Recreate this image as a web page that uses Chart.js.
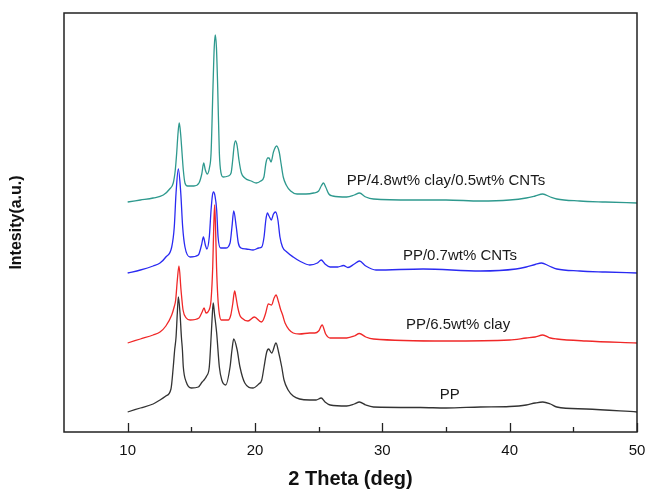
<!DOCTYPE html>
<html>
<head>
<meta charset="utf-8">
<title>XRD patterns</title>
<script src="https://cdn.jsdelivr.net/npm/chart.js@4.4.1/dist/chart.umd.min.js"></script>
<style>
  html, body { margin: 0; padding: 0; background: #fff; }
  #wrap { width: 648px; height: 492px; }
</style>
</head>
<body>
<div id="wrap"><canvas id="xrd" width="648" height="492"></canvas></div>
<script>
// 2-theta positions (deg) and intensities (a.u., curves already offset)
const thetaPP = [10, 11, 12, 12.54, 13.0, 13.4, 13.58, 13.69, 13.8, 13.9, 13.98, 14.11, 14.22, 14.3, 14.37, 14.6, 15.0, 15.55, 15.85, 16.0, 16.2, 16.41, 16.57, 16.65, 16.72, 16.82, 16.99, 17.2, 17.39, 17.7, 18.04, 18.19, 18.33, 18.6, 18.82, 19.2, 19.85, 20.3, 20.53, 20.71, 20.92, 21.07, 21.31, 21.65, 21.85, 22.1, 22.28, 22.6, 23.0, 23.5, 24.3, 24.8, 25.2, 25.5, 25.9, 27.2, 27.8, 28.2, 28.7, 29.3, 33.0, 35.0, 37.7, 40.0, 41.3, 42.0, 42.6, 43.2, 43.7, 46.0, 50];
const intensityPP = [20, 24, 28, 32, 36, 43, 65, 82, 95, 119, 135, 119, 95, 82, 65, 50, 44, 45, 50, 52, 56, 65, 99, 118, 129, 118, 99, 65, 52, 47, 65, 82, 93, 82, 65, 49, 44, 48, 52, 65, 80, 83, 79, 89, 80, 65, 52, 42, 36, 33, 32, 32, 34, 30, 27, 26, 28, 30, 27, 25, 24.5, 24, 25, 25.5, 27, 29, 30, 28, 25, 23, 20];

const thetaClay = [10, 11, 12, 12.54, 13.0, 13.46, 13.65, 13.77, 13.9, 14.03, 14.19, 14.35, 14.6, 14.9, 15.6, 15.85, 16.0, 16.15, 16.3, 16.45, 16.55, 16.68, 16.76, 16.83, 16.9, 16.98, 17.08, 17.2, 17.35, 17.9, 18.1, 18.25, 18.4, 18.52, 18.64, 18.8, 18.96, 19.45, 19.95, 20.5, 20.65, 20.84, 21.05, 21.3, 21.5, 21.65, 21.85, 22.0, 22.17, 22.36, 23.0, 23.5, 24.3, 24.7, 25.0, 25.27, 25.55, 25.9, 27.2, 27.8, 28.2, 28.7, 29.3, 35.0, 40.0, 41.3, 42.0, 42.6, 43.2, 43.7, 46.0, 50];
const intensityClay = [89, 93, 97, 100, 106, 117, 125, 132, 152, 166, 142, 122, 114, 112, 114, 120, 124, 119, 120, 124, 132, 165, 205, 227, 205, 165, 135, 118, 112, 112, 117, 128, 141, 134, 125, 117, 114, 111, 115, 110, 112, 119, 128, 127, 134, 137, 130, 123, 117, 109, 99, 98, 99, 99, 101, 107, 98, 94, 94, 96, 98.5, 95, 93, 91, 92, 94, 95, 97, 94, 93, 91, 89];

const thetaCnt = [10, 11, 12, 12.54, 13.0, 13.46, 13.66, 13.8, 13.98, 14.17, 14.32, 14.5, 14.9, 15.55, 15.8, 15.95, 16.1, 16.22, 16.41, 16.55, 16.65, 16.74, 16.86, 16.99, 17.1, 17.3, 17.7, 18.04, 18.19, 18.33, 18.53, 18.69, 18.9, 19.3, 19.85, 20.3, 20.53, 20.71, 20.85, 20.97, 21.1, 21.28, 21.45, 21.62, 21.8, 21.96, 22.16, 22.5, 23.0, 23.5, 24.3, 24.9, 25.2, 25.5, 25.9, 26.5, 26.95, 27.3, 27.8, 28.2, 28.7, 29.5, 33.2, 37.7, 40.5, 41.3, 42.0, 42.5, 43.1, 43.7, 45.5, 47.5, 50];
const intensityCnt = [159, 162, 166, 169, 175, 185, 205, 239, 263, 239, 205, 185, 175, 177, 187, 195, 187, 183, 195, 222, 236, 240, 236, 222, 195, 184, 184, 189, 205, 221, 205, 189, 184, 183, 182, 184, 185, 195, 212, 219, 216, 212, 218, 220, 212, 195, 185, 180, 175, 171, 167, 169, 172, 168, 165, 165, 166.5, 164.5, 168, 171, 166, 162, 163, 161, 163, 165, 167.5, 169, 166, 163, 161, 160, 159];

const thetaHybrid = [10, 11, 12, 12.8, 13.3, 13.58, 13.74, 13.85, 13.95, 14.05, 14.16, 14.27, 14.37, 14.5, 14.7, 15.2, 15.6, 15.82, 15.97, 16.1, 16.25, 16.42, 16.55, 16.7, 16.8, 16.88, 16.97, 17.07, 17.2, 17.33, 17.5, 17.9, 18.12, 18.25, 18.36, 18.47, 18.6, 18.74, 18.93, 19.2, 19.7, 20.1, 20.45, 20.7, 20.86, 21.0, 21.1, 21.26, 21.45, 21.7, 21.9, 22.04, 22.22, 22.45, 22.8, 23.3, 24.0, 24.6, 25.0, 25.2, 25.38, 25.55, 25.8, 26.1, 27.2, 27.8, 28.2, 28.7, 29.3, 32.4, 35.0, 37.7, 40.0, 41.3, 42.0, 42.6, 43.2, 43.7, 45.5, 47.5, 50];
const intensityHybrid = [230, 232, 234, 237, 243, 249, 262, 279, 298, 309, 298, 279, 262, 249, 246, 246, 249, 258, 269, 262, 258, 264, 279, 345, 385, 397, 385, 345, 279, 259, 255, 256, 259, 272, 286, 291, 286, 272, 259, 254, 251, 249, 251, 255, 269, 274, 274, 270, 280, 286, 280, 269, 255, 247, 241, 238, 238, 239, 241, 246, 249, 245, 238, 236, 235, 237, 239, 235, 233, 232, 232, 231, 232, 234, 236, 238, 235, 233, 231, 230, 229];

const majorTicks = [10, 20, 30, 40, 50];
const minorTicks = [15, 25, 35, 45];

const curveLabels = [
  { text: 'PP/4.8wt% clay/0.5wt% CNTs', x: 35.0, y: 251 },
  { text: 'PP/0.7wt% CNTs', x: 36.1, y: 176 },
  { text: 'PP/6.5wt% clay', x: 35.95, y: 107 },
  { text: 'PP', x: 35.3, y: 37 }
];

const FONT = "'Liberation Sans', Arial, Helvetica, sans-serif";

function toPoints(xs, ys) {
  return xs.map((x, i) => ({ x, y: ys[i] }));
}

function series(label, xs, ys, color) {
  return {
    label,
    data: toPoints(xs, ys),
    borderColor: color,
    backgroundColor: color,
    borderWidth: 1.3,
    pointRadius: 0,
    fill: false,
    cubicInterpolationMode: 'monotone'
  };
}

// box around the plot plus inward ticks on the bottom axis
const frame = {
  id: 'frame',
  afterDraw(chart) {
    const { ctx, chartArea: a, scales } = chart;
    ctx.save();
    ctx.strokeStyle = '#222';
    ctx.lineWidth = 1.5;
    ctx.strokeRect(a.left, a.top, a.right - a.left, a.bottom - a.top);
    ctx.lineWidth = 1.3;
    const tick = (v, len) => {
      const px = Math.round(scales.x.getPixelForValue(v)) + 0.5;
      ctx.beginPath();
      ctx.moveTo(px, a.bottom);
      ctx.lineTo(px, a.bottom - len);
      ctx.stroke();
    };
    majorTicks.forEach(v => tick(v, 9));
    minorTicks.forEach(v => tick(v, 5));
    ctx.restore();
  }
};

const labelText = {
  id: 'labelText',
  afterDatasetsDraw(chart) {
    const { ctx, scales } = chart;
    ctx.save();
    ctx.fillStyle = '#1a1a1a';
    ctx.font = `15px ${FONT}`;
    ctx.textAlign = 'center';
    ctx.textBaseline = 'middle';
    curveLabels.forEach(l => {
      ctx.fillText(l.text, scales.x.getPixelForValue(l.x), scales.y.getPixelForValue(l.y));
    });
    ctx.restore();
  }
};

new Chart(document.getElementById('xrd').getContext('2d'), {
  type: 'line',
  data: {
    datasets: [
      series('PP', thetaPP, intensityPP, '#333333'),
      series('PP/6.5wt% clay', thetaClay, intensityClay, '#f02828'),
      series('PP/0.7wt% CNTs', thetaCnt, intensityCnt, '#2a2af2'),
      series('PP/4.8wt% clay/0.5wt% CNTs', thetaHybrid, intensityHybrid, '#2e998e')
    ]
  },
  options: {
    responsive: false,
    animation: false,
    devicePixelRatio: 1,
    layout: { padding: { top: 13, right: 11, left: 0, bottom: 0 } },
    plugins: {
      legend: { display: false },
      tooltip: { enabled: false }
    },
    scales: {
      x: {
        type: 'linear',
        min: 5,
        max: 50,
        afterBuildTicks: scale => { scale.ticks = majorTicks.map(v => ({ value: v })); },
        afterFit: scale => {
          // keep the plot edge fixed, the "50" label may hang over
          scale.height = 60;
          scale.paddingLeft = 0;
          scale.paddingRight = 0;
        },
        grid: { display: false, drawTicks: false },
        border: { display: false },
        ticks: {
          color: '#111',
          padding: 10,
          maxRotation: 0,
          font: { family: FONT, size: 15 },
          callback: v => String(v)
        },
        title: {
          display: true,
          text: '2 Theta (deg)',
          color: '#111',
          padding: { top: 0, bottom: 1 },
          font: { family: FONT, size: 20, weight: 'bold' }
        }
      },
      y: {
        min: 0,
        max: 419,
        afterFit: scale => { scale.width = 64; },
        grid: { display: false, drawTicks: false },
        border: { display: false },
        ticks: { display: false },
        title: {
          display: true,
          text: 'Intesity(a.u.)',
          color: '#111',
          padding: { top: 7, bottom: 0 },
          font: { family: FONT, size: 16, weight: 'bold' }
        }
      }
    }
  },
  plugins: [frame, labelText]
});
</script>
</body>
</html>
